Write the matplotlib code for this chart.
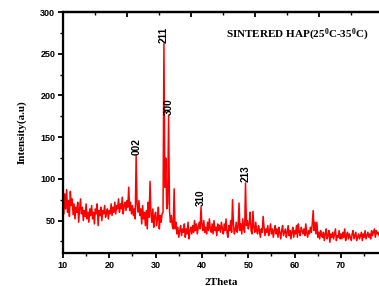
import numpy as np
import matplotlib
matplotlib.use('Agg')
import matplotlib.pyplot as plt
from matplotlib.ticker import MultipleLocator

# XRD pattern (step 0.2 deg)
two_theta = np.round(np.arange(10.0, 78.21, 0.2), 1)
intensity = [
    78, 58, 82, 64, 87, 60, 74, 55, 85, 68,
    76, 57, 70, 52, 66, 60, 72, 48, 64, 76,
    58, 66, 50, 62, 55, 70, 52, 60, 48, 64,
    56, 68, 52, 60, 46, 64, 58, 70, 44, 62,
    56, 66, 50, 62, 58, 68, 54, 60, 64, 52,
    62, 58, 70, 56, 66, 60, 72, 58, 68, 64,
    76, 60, 70, 64, 78, 58, 68, 72, 62, 74,
    66, 90, 62, 72, 58, 68, 56, 64, 52, 128,
    70, 60, 74, 56, 64, 46, 68, 52, 60, 44,
    62, 40, 72, 54, 97, 58, 48, 64, 42, 56,
    60, 44, 52, 66, 40, 56, 48, 58, 60, 262,
    90, 125, 64, 70, 176, 62, 48, 56, 44, 40,
    88, 40, 48, 34, 42, 30, 38, 44, 32, 40,
    36, 46, 30, 40, 34, 48, 28, 38, 42, 34,
    44, 36, 50, 38, 46, 34, 42, 48, 40, 66,
    44, 38, 50, 36, 42, 34, 48, 38, 52, 40,
    36, 46, 34, 50, 38, 42, 32, 46, 38, 44,
    36, 48, 40, 34, 46, 38, 52, 36, 30, 44,
    38, 50, 36, 75, 44, 34, 40, 48, 36, 42,
    71, 38, 46, 34, 52, 40, 36, 95, 44, 50,
    40, 46, 60, 38, 34, 61, 42, 36, 48, 38,
    34, 44, 38, 30, 40, 36, 55, 42, 32, 40,
    36, 44, 32, 38, 46, 34, 40, 30, 38, 44,
    34, 40, 30, 42, 36, 28, 38, 44, 32, 36,
    40, 30, 36, 44, 32, 38, 28, 36, 42, 30,
    38, 34, 44, 30, 46, 36, 32, 42, 38, 34,
    40, 32, 46, 36, 30, 38, 34, 42, 36, 46,
    62, 38, 48, 34, 48, 30, 36, 28, 38, 32,
    30, 36, 26, 34, 40, 28, 32, 38, 24, 34,
    30, 36, 28, 34, 40, 26, 32, 30, 38, 28,
    34, 28, 36, 30, 40, 26, 32, 36, 28, 34,
    30, 26, 34, 38, 28, 32, 36, 26, 30, 34,
    28, 32, 36, 26, 34, 30, 38, 28, 32, 36,
    30, 34, 28, 38, 32, 36, 40, 30, 38, 34,
    36, 32,
]

peak_labels = ['002', '211', '300', '310', '213']
peak_pos = [25.8, 31.8, 32.8, 39.8, 49.4]
peak_height = [128, 262, 176, 66, 95]

x_ticks = [10, 20, 30, 40, 50, 60, 70]
y_ticks = [50, 100, 150, 200, 250, 300]


def plot_xrd():
    plt.rcParams['mathtext.default'] = 'regular'
    fig = plt.figure(figsize=(3.79, 2.86), dpi=100)
    ax = fig.add_axes([0.166, 0.115, 0.834, 0.843])

    ax.plot(two_theta, intensity, color='#ff0000', linewidth=1.1)

    ax.set_xlim(10, 78.2)
    ax.set_ylim(11, 300)
    ax.set_xticks(x_ticks)
    ax.set_yticks(y_ticks)
    ax.xaxis.set_minor_locator(MultipleLocator(5))
    ax.yaxis.set_minor_locator(MultipleLocator(25))

    for s in ['left', 'bottom', 'top']:
        ax.spines[s].set_linewidth(1.6)
    ax.spines['right'].set_visible(False)
    ax.tick_params(which='major', direction='out', length=3.5, width=1.3,
                   labelsize=6.5, pad=2)
    ax.tick_params(which='minor', direction='out', length=2, width=1.0)
    for lab in ax.get_xticklabels() + ax.get_yticklabels():
        lab.set_fontfamily('Liberation Sans')
        lab.set_fontweight('bold')

    # top axis of Origin with its own tick spacing
    ax2 = ax.twiny()
    ax2.set_xlim(0, (78.2 - 10) / 6.9)
    ax2.xaxis.set_major_locator(MultipleLocator(2))
    ax2.xaxis.set_minor_locator(MultipleLocator(1))
    ax2.tick_params(which='major', direction='in', length=3.5, width=1.3,
                    labeltop=False)
    ax2.tick_params(which='minor', direction='in', length=2, width=1.0)
    ax2.spines['right'].set_visible(False)
    ax2.spines['top'].set_linewidth(1.6)

    ax.set_xlabel('2Theta', fontfamily='Liberation Serif', fontweight='bold',
                  fontsize=8)
    ax.xaxis.set_label_coords(0.5, -0.105)
    ax.set_ylabel('Intensity(a.u)', fontfamily='Liberation Serif',
                  fontweight='bold', fontsize=8)
    ax.yaxis.set_label_coords(-0.115, 0.5)

    for lbl, xp, yp in zip(peak_labels, peak_pos, peak_height):
        ax.text(xp, yp + 1, lbl, rotation=90, ha='center', va='bottom',
                fontsize=7.2, fontfamily='Liberation Sans', fontweight='bold')

    ax.text(0.515, 0.905, 'SINTERED HAP(25$^{0}$C-35$^{0}$C)',
            transform=ax.transAxes, fontfamily='Liberation Serif',
            fontweight='bold', fontsize=8, ha='left', va='center')

    fig.savefig('out.png', dpi=100)
    plt.close()


if __name__ == '__main__':
    plot_xrd()
